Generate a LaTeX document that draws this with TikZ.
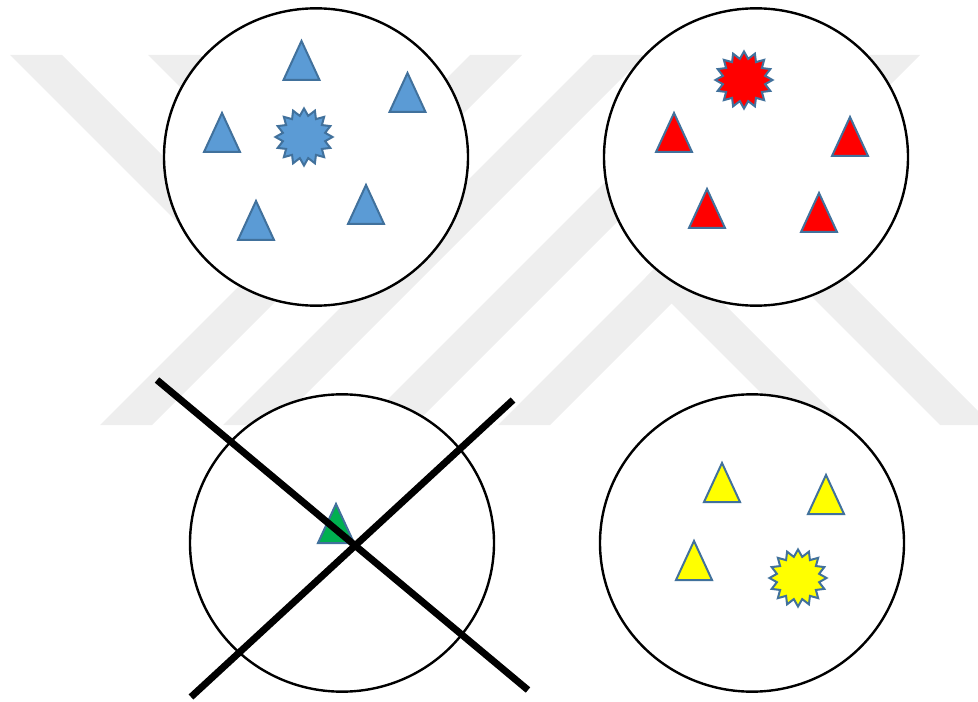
\documentclass[tikz,border=0pt]{standalone}
\usetikzlibrary{shapes.geometric}
\definecolor{wmgray}{RGB}{238,238,238}
\definecolor{edgeblue}{RGB}{65,113,156}
\definecolor{bluefill}{RGB}{91,155,213}
\definecolor{redfill}{RGB}{255,0,0}
\definecolor{greenfill}{RGB}{0,176,80}
\definecolor{yellowfill}{RGB}{255,255,0}
\newcommand\wmR[3]{\fill[wmgray] ({#1+#2-55},#2) -- ({#1+52+#2-55},#2) -- ({#1+52+#3-55},#3) -- ({#1+#3-55},#3) -- cycle;}
\newcommand\wmL[3]{\fill[wmgray] ({#1-(#2-55)},#2) -- ({#1+52-(#2-55)},#2) -- ({#1+52-(#3-55)},#3) -- ({#1-(#3-55)},#3) -- cycle;}
\tikzset{
  ring/.style={ellipse, draw=black, fill=white, line width=1.8pt, minimum width=228pt, minimum height=223pt, inner sep=0pt},
  cross/.style={line width=5.2pt, black},
  shp/.style={draw=edgeblue, line width=1.5pt},
  pics/tri/.style={code={\path[pic actions] (0,-39) -- (18,0) -- (-18,0) -- cycle;}},
  pics/spiky/.style={code={\path[pic actions] plot[samples at={0,...,31}, variable=\k] ({ifthenelse(mod(\k,2)==0,28.5,21.5)*cos(\k*11.25+90)},{ifthenelse(mod(\k,2)==0,28.5,21.5)*sin(\k*11.25+90)}) -- cycle;}}
}
\begin{document}
\begin{tikzpicture}[x=0.75pt,y=-0.75pt]
\useasboundingbox (0,0) rectangle (978,702);
% watermark
\begin{scope}
\clip (0,55) rectangle (978,425);
\wmL{470}{55}{425}
\wmL{593}{55}{425}
\wmL{868}{55}{425}
\wmL{732}{55}{425}
\wmR{10}{55}{250}
\wmR{148}{55}{250}
\fill[wmgray] (671.5,251.5) -- (645.5,277.5) -- (793,425) -- (845,425) -- cycle;
\wmR{570}{140}{425}
\end{scope}
% circles
\node[ring] (tl) at (316,157) {};
\node[ring] (tr) at (756,157) {};
\node[ring] (bl) at (342,543) {};
\node[ring] (br) at (752,543) {};
% blue set
\pic[shp, fill=bluefill] at (301.5,80) {tri};
\pic[shp, fill=bluefill] at (407.5,112) {tri};
\pic[shp, fill=bluefill] at (222,152) {tri};
\pic[shp, fill=bluefill] at (256,240) {tri};
\pic[shp, fill=bluefill] at (366,224) {tri};
\pic[shp, fill=bluefill] at (304,137) {spiky};
% red set
\pic[shp, fill=redfill] at (674,152) {tri};
\pic[shp, fill=redfill] at (850,156) {tri};
\pic[shp, fill=redfill] at (707,228) {tri};
\pic[shp, fill=redfill] at (819,232) {tri};
\pic[shp, fill=redfill] at (744,80) {spiky};
% green
\pic[shp, fill=greenfill] at (336,543) {tri};
% yellow set
\pic[shp, fill=yellowfill] at (722,502) {tri};
\pic[shp, fill=yellowfill] at (826,514) {tri};
\pic[shp, fill=yellowfill] at (694,580) {tri};
\pic[shp, fill=yellowfill] at (798,578) {spiky};
% cross
\coordinate (xa) at (157,380);
\coordinate (xb) at (528,690);
\coordinate (xc) at (513,400);
\coordinate (xd) at (191,697);
\draw[cross] (xa) -- (xb);
\draw[cross] (xc) -- (xd);
\end{tikzpicture}
\end{document}
